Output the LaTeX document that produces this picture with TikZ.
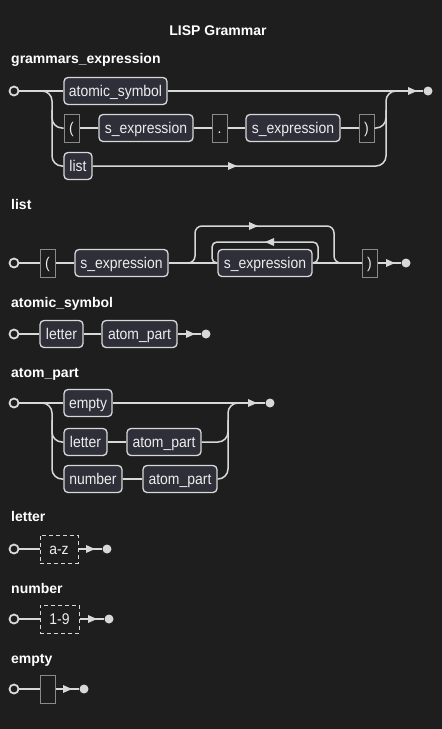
\documentclass[tikz,border=0pt]{standalone}
\usepackage{fontspec}
\setmainfont{Liberation Sans}
\newfontfamily\boxf[FakeStretch=0.9]{Liberation Sans}
\usetikzlibrary{arrows.meta}
\definecolor{bg}{HTML}{1E1E1E}
\definecolor{ln}{HTML}{D8D8D8}
\definecolor{ntf}{HTML}{2F2F3A}
\definecolor{tb}{HTML}{8A8A8A}
\definecolor{tx}{HTML}{EDEDED}
\begin{document}
\begin{tikzpicture}[x=1pt,y=-1pt,
 wire/.style={draw=ln,line width=1.5pt},
 boxfont/.style={font=\boxf\fontsize{15.5}{17}\selectfont,text height=12pt,text depth=1pt},
 nt/.style={draw=ln,fill=ntf,rounded corners=4pt,line width=1.3pt,minimum height=27pt,inner sep=0pt,text=tx,boxfont},
 tm/.style={draw=tb,fill=bg,line width=1pt,minimum height=28pt,inner sep=0pt,text=tx,boxfont},
 dtm/.style={tm,draw=ln,dash pattern=on 4pt off 3pt},
 st/.style={circle,draw=ln,fill=bg,line width=1.8pt,minimum size=9pt,inner sep=0pt},
 en/.style={circle,fill=ln,minimum size=9pt,inner sep=0pt},
 lab/.style={anchor=base west,text=white,font=\bfseries\fontsize{14}{16}\selectfont,inner sep=0pt},
 ar/.pic={\fill[ln] (0,0) -- (-9,-4) -- (-9,4) -- cycle;}
]
\path[fill=bg] (0,0) rectangle (442,729);
\node[anchor=base,text=white,font=\bfseries\fontsize{14}{16}\selectfont,inner sep=0pt] (title) at (218,35.5) {LISP Grammar};

% grammars_expression
\node[lab] (l1) at (11,63) {grammars\_expression};
\node[st] (s1) at (14,91) {};
\node[nt,minimum width=103pt] (as1) at (115.5,91) {atomic\_symbol};
\node[tm,minimum width=15pt] (lp1) at (71.5,128) {(};
\node[nt,minimum width=94pt] (se1) at (146,128) {s\_expression};
\node[tm,minimum width=15pt] (dt1) at (219.5,128) {.};
\node[nt,minimum width=94pt] (se2) at (293,128) {s\_expression};
\node[tm,minimum width=15pt] (rp1) at (366.5,128) {)};
\node[nt,minimum width=28pt] (li1) at (78,166) {list};
\node[en] (e1) at (428,91) {};
\coordinate (g1a) at (40,91);
\coordinate (g1b) at (52,110);
\coordinate (g1c) at (386,110);
\coordinate (g1d) at (386,91);
\coordinate (g1e) at (398,91);
\draw[wire] (s1) -- (as1);
\draw[wire] (as1) -- (e1);
\draw[wire,rounded corners=10pt] (g1a) -| (52,166) -- (li1.west);
\draw[wire,rounded corners=10pt] (g1b) |- (lp1.west);
\draw[wire] (lp1) -- (se1);
\draw[wire] (se1) -- (dt1);
\draw[wire] (dt1) -- (se2);
\draw[wire] (se2) -- (rp1);
\draw[wire,rounded corners=10pt] (rp1.east) -| (g1c);
\draw[wire,rounded corners=10pt] (li1.east) -| (g1d) -- (g1e);
\pic at (237,166) {ar};
\pic at (417,91) {ar};

% list
\node[lab] (l2) at (11,209) {list};
\node[st] (s2) at (14,263) {};
\node[tm,minimum width=15pt] (lp2) at (47.5,263) {(};
\node[nt,minimum width=93pt] (se3) at (121.5,263) {s\_expression};
\node[nt,minimum width=94pt] (se4) at (265,263) {s\_expression};
\node[tm,minimum width=15pt] (rp2) at (369.5,263) {)};
\node[en] (e2) at (406,263) {};
\coordinate (o1) at (186,263);
\coordinate (o2) at (342,263);
\draw[wire] (s2) -- (lp2);
\draw[wire] (lp2) -- (se3);
\draw[wire] (se3) -- (se4);
\draw[wire] (se4) -- (rp2);
\draw[wire] (rp2) -- (e2);
\draw[wire,rounded corners=7pt] (o1) -| (195,226) -| (334,263) -- (o2);
\draw[wire,rounded corners=5pt] (se4.east) -| (318,242) -| (212,263) -- (se4.west);
\pic at (258,226) {ar};
\pic[rotate=180] at (265,242) {ar};
\pic at (395,263) {ar};

% atomic_symbol
\node[lab] (l3) at (11,307.5) {atomic\_symbol};
\node[st] (s3) at (14,334) {};
\node[nt,minimum width=43pt] (le1) at (61.5,334) {letter};
\node[nt,minimum width=75pt] (ap1) at (139.5,334) {atom\_part};
\node[en] (e3) at (206,334) {};
\draw[wire] (s3) -- (le1);
\draw[wire] (le1) -- (ap1);
\draw[wire] (ap1) -- (e3);
\pic at (195,334) {ar};

% atom_part
\node[lab] (l4) at (11,377.5) {atom\_part};
\node[st] (s4) at (14,403) {};
\node[nt,minimum width=48pt] (em1) at (88,403) {empty};
\node[nt,minimum width=43pt] (le2) at (85.5,442) {letter};
\node[nt,minimum width=74pt] (ap2) at (164,442) {atom\_part};
\node[nt,minimum width=58pt] (nu1) at (93,479) {number};
\node[nt,minimum width=74pt] (ap3) at (180,479) {atom\_part};
\node[en] (e4) at (270,403) {};
\coordinate (a1) at (40,403);
\coordinate (a2) at (52,420);
\coordinate (a3) at (228,420);
\coordinate (a4) at (228,403);
\coordinate (a5) at (240,403);
\draw[wire] (s4) -- (em1);
\draw[wire] (em1) -- (e4);
\draw[wire,rounded corners=10pt] (a1) -| (52,479) -- (nu1.west);
\draw[wire,rounded corners=10pt] (a2) |- (le2.west);
\draw[wire] (le2) -- (ap2);
\draw[wire] (nu1) -- (ap3);
\draw[wire,rounded corners=10pt] (ap2.east) -| (a3);
\draw[wire,rounded corners=10pt] (ap3.east) -| (a4) -- (a5);
\pic at (257,403) {ar};

% letter
\node[lab] (l5) at (11,521.7) {letter};
\node[st] (s5) at (14,549) {};
\node[dtm,minimum width=38pt] (az) at (59,549) {a-z};
\node[en] (e5) at (107,549) {};
\draw[wire] (s5) -- (az);
\draw[wire] (az) -- (e5);
\pic at (95,549) {ar};

% number
\node[lab] (l6) at (11,593) {number};
\node[st] (s6) at (14,619) {};
\node[dtm,minimum width=39pt] (n19) at (59.5,619) {1-9};
\node[en] (e6) at (109,619) {};
\draw[wire] (s6) -- (n19);
\draw[wire] (n19) -- (e6);
\pic at (97,619) {ar};

% empty
\node[lab] (l7) at (11,663) {empty};
\node[st] (s7) at (14,689) {};
\node[tm,minimum width=15pt] (emb) at (47.5,689) {};
\node[en] (e7) at (84,689) {};
\draw[wire] (s7) -- (emb);
\draw[wire] (emb) -- (e7);
\pic at (72,689) {ar};
\end{tikzpicture}
\end{document}
